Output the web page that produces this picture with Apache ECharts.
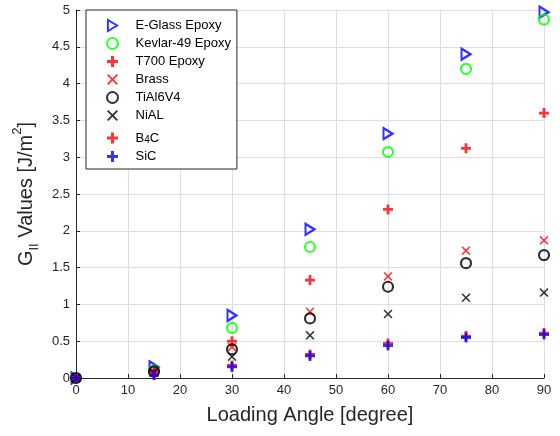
<!DOCTYPE html>
<html>
<head>
<meta charset="utf-8">
<script src="https://cdn.jsdelivr.net/npm/echarts@6/dist/echarts.min.js"></script>
<style>
  html, body { margin: 0; padding: 0; background: #fff; }
  #chart { width: 560px; height: 436px; }
</style>
</head>
<body>
<div id="chart"></div>
<script>
// loading angles (x)
var angles = [0, 15, 30, 45, 60, 75, 90];
// G_II values per material
var eGlass = [0, 0.15, 0.85, 2.02, 3.32, 4.40, 4.97];
var kevlar = [0, 0.10, 0.68, 1.78, 3.07, 4.20, 4.87];
var t700 = [0, 0.08, 0.50, 1.33, 2.29, 3.12, 3.60];
var brass = [0, 0.08, 0.42, 0.90, 1.38, 1.73, 1.87];
var tial = [0, 0.09, 0.39, 0.81, 1.24, 1.56, 1.67];
var nial = [0, 0.07, 0.29, 0.58, 0.87, 1.09, 1.16];
var b4c = [0, 0.05, 0.17, 0.32, 0.47, 0.57, 0.61];
var sic = [0, 0.04, 0.15, 0.30, 0.44, 0.55, 0.59];
var names = ['E-Glass Epoxy', 'Kevlar-49 Epoxy', 'T700 Epoxy', 'Brass', 'TiAl6V4', 'NiAL', 'B4C', 'SiC'];

// marker shapes
var triRight = 'path://M0,0L10,6L0,12Z';
var plus = 'path://M3.6,0H6.4V3.6H10V6.4H6.4V10H3.6V6.4H0V3.6H3.6Z';
var cross = 'path://M1.2,0L5,3.8L8.8,0L10,1.2L6.2,5L10,8.8L8.8,10L5,6.2L1.2,10L0,8.8L3.8,5L0,1.2Z';

function pts(vals) {
  return angles.map(function (a, i) { return [a, vals[i]]; });
}

function openSeries(name, vals, symbol, color, size) {
  return {
    name: name, type: 'scatter', data: pts(vals),
    symbol: symbol, symbolSize: size,
    itemStyle: { color: 'transparent', borderColor: color, borderWidth: 2.2 }
  };
}
function fillSeries(name, vals, symbol, color, size) {
  return {
    name: name, type: 'scatter', data: pts(vals),
    symbol: symbol, symbolSize: size,
    itemStyle: { color: color, borderWidth: 0 }
  };
}

var axisTxt = '#262626';
var chart = echarts.init(document.getElementById('chart'), null, { renderer: 'canvas' });
chart.setOption({
  animation: false,
  grid: { left: 76, right: 16, top: 10, bottom: 58 },
  legend: {
    orient: 'vertical',
    left: 86, top: 10,
    padding: [9, 6, 6, 20],
    itemWidth: 36, itemHeight: 11,
    itemGap: 5,
    borderColor: '#262626', borderWidth: 1,
    backgroundColor: '#fff',
    data: names,
    formatter: function (n) { return n === 'B4C' ? 'B{sub|4}C' : n; },
    textStyle: {
      fontFamily: 'Liberation Sans', fontSize: 13, color: '#000',
      rich: { sub: { fontFamily: 'Liberation Sans', fontSize: 10, color: '#000', verticalAlign: 'bottom', lineHeight: 14, padding: [8, 0, 0, 0] } }
    }
  },
  xAxis: {
    type: 'value', min: 0, max: 90, interval: 10,
    name: 'Loading Angle [degree]', nameLocation: 'middle', nameGap: 27,
    nameTextStyle: { fontFamily: 'Liberation Sans', fontSize: 20, color: axisTxt },
    axisLine: { lineStyle: { color: axisTxt, width: 1 } },
    axisTick: { inside: true, length: 4, lineStyle: { color: axisTxt } },
    axisLabel: { fontFamily: 'Liberation Sans', fontSize: 13, color: axisTxt, margin: 6 },
    splitLine: { show: true, lineStyle: { color: '#dedede' } }
  },
  yAxis: {
    type: 'value', min: 0, max: 5, interval: 0.5,
    name: '{b|G}{sub|II}{b| Values [J/m}{sup|2}{b|]}',
    nameLocation: 'middle', nameGap: 31, nameRotate: 90,
    nameTextStyle: {
      fontFamily: 'Liberation Sans', fontSize: 20, color: axisTxt,
      rich: {
        b: { fontFamily: 'Liberation Sans', fontSize: 20, color: axisTxt, lineHeight: 30, verticalAlign: 'middle' },
        sub: { fontFamily: 'Liberation Sans', fontSize: 13, color: axisTxt, lineHeight: 30, verticalAlign: 'bottom' },
        sup: { fontFamily: 'Liberation Sans', fontSize: 13, color: axisTxt, lineHeight: 30, verticalAlign: 'top' }
      }
    },
    axisLine: { show: true, lineStyle: { color: axisTxt, width: 1 } },
    axisTick: { show: true, inside: true, length: 4, lineStyle: { color: axisTxt } },
    axisLabel: { fontFamily: 'Liberation Sans', fontSize: 13, color: axisTxt, margin: 6 },
    splitLine: { show: true, lineStyle: { color: '#dedede' } }
  },
  series: [
    openSeries(names[0], eGlass, triRight, '#0000ff', [9, 11]),
    openSeries(names[1], kevlar, 'circle', '#00ff00', 10),
    fillSeries(names[2], t700, plus, '#ff0000', 10),
    fillSeries(names[3], brass, cross, '#ff0000', 9),
    openSeries(names[4], tial, 'circle', '#000000', 10),
    fillSeries(names[5], nial, cross, '#000000', 9),
    fillSeries(names[6], b4c, plus, '#ff0000', 10),
    fillSeries(names[7], sic, plus, '#0000ff', 10)
  ]
});
</script>
</body>
</html>
